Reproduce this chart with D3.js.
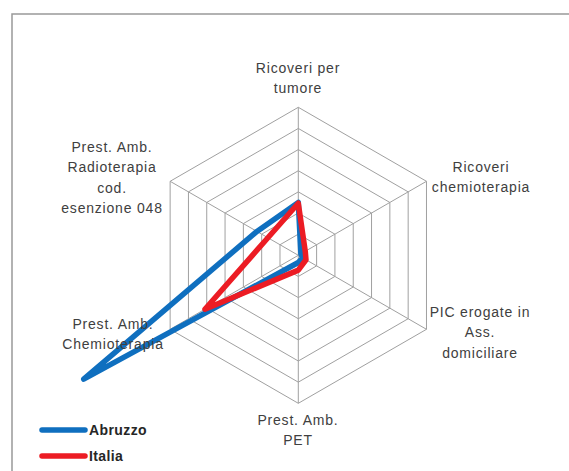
<!DOCTYPE html>
<html>
<head>
<meta charset="utf-8">
<script src="https://cdn.jsdelivr.net/npm/d3@7"></script>
<style>
  body { margin: 0; background: #fff; }
  text { font-family: "Liberation Sans", Arial, sans-serif; fill: #404040; }
</style>
</head>
<body>
<svg id="radar"></svg>
<script>
// Data
let categories = [
    ["Ricoveri per", "tumore"],
    ["Ricoveri", "chemioterapia"],
    ["PIC erogate in", "Ass.", "domiciliare"],
    ["Prest. Amb.", "PET"],
    ["Prest. Amb.", "Chemioterapia"],
    ["Prest. Amb.", "Radioterapia", "cod.", "esenzione 048"]
];
let abruzzo = [1.25, 0.07, 0.12, 0.17, 5.86, 1.13];
let italia = [1.23, 0.19, 0.21, 0.35, 2.55, 0.83];
let ticks = [0, 0.5, 1, 1.5, 2, 2.5, 3, 3.5];

let seriesNames = ["Abruzzo", "Italia"];
let seriesColors = ["#0F6FBF", "#EC1C24"];

// SVG size
let width = 569;
let height = 471;
let cx = 298.3, cy = 255.3;
let radius = 148;

let svg = d3.select("#radar")
    .attr("width", width)
    .attr("height", height);

// outer frame
svg.append("path")
    .attr("d", `M12,${height} L12,14 L${width},14`)
    .attr("fill", "none")
    .attr("stroke", "#999")
    .attr("stroke-width", 1.5);

let r = d3.scaleLinear()
    .domain([0, d3.max(ticks)])
    .range([0, radius]);

let angle = d3.scalePoint()
    .domain(d3.range(categories.length))
    .range([0, 2 * Math.PI * (categories.length - 1) / categories.length]);

let g = svg.append("g")
    .attr("transform", `translate(${cx}, ${cy})`);

let pt = (i, v) => [Math.sin(angle(i)) * r(v), -Math.cos(angle(i)) * r(v)];

// Grid rings
g.selectAll("polygon.ring")
    .data(ticks.slice(1))
    .enter()
    .append("polygon")
    .attr("class", "ring")
    .attr("points", t => categories.map((c, i) => pt(i, t).join(",")).join(" "))
    .attr("fill", "none")
    .attr("stroke", "#A0A0A0")
    .attr("stroke-width", 1);

// Spokes
g.selectAll("line.spoke")
    .data(categories)
    .enter()
    .append("line")
    .attr("class", "spoke")
    .attr("x1", 0).attr("y1", 0)
    .attr("x2", (c, i) => pt(i, d3.max(ticks))[0])
    .attr("y2", (c, i) => pt(i, d3.max(ticks))[1])
    .attr("stroke", "#A0A0A0")
    .attr("stroke-width", 1);

// Series
let line = d3.lineRadial()
    .angle((d, i) => angle(i))
    .radius(d => r(d))
    .curve(d3.curveLinearClosed);

[abruzzo, italia].forEach((s, k) => {
    g.append("path")
        .attr("d", line(s))
        .attr("fill", "none")
        .attr("stroke", seriesColors[k])
        .attr("stroke-width", 5.5)
        .attr("stroke-linejoin", "round");
});

// Category labels
let labelPos = [
    [298, 68],
    [481, 167],
    [480, 312],
    [298, 420],
    [113, 324],
    [112, 147]
];
categories.forEach((lines, i) => {
    let t = svg.append("text")
        .attr("text-anchor", "middle")
        .attr("font-size", 14)
        .attr("letter-spacing", 0.8);
    lines.forEach((ln, j) => {
        t.append("tspan")
            .attr("x", labelPos[i][0])
            .attr("y", labelPos[i][1] + j * 20.5)
            .attr("dy", "0.35em")
            .text(ln);
    });
});

// Legend
let legend = svg.selectAll("g.legend")
    .data(seriesNames)
    .enter()
    .append("g")
    .attr("class", "legend")
    .attr("transform", (d, i) => `translate(0, ${430 + i * 26})`);

legend.append("line")
    .attr("x1", 42).attr("x2", 85)
    .attr("y1", 0).attr("y2", 0)
    .attr("stroke", (d, i) => seriesColors[i])
    .attr("stroke-width", 5.5)
    .attr("stroke-linecap", "round");

legend.append("text")
    .attr("x", 89)
    .attr("y", 0)
    .attr("dy", "0.35em")
    .attr("font-size", 14)
    .attr("font-weight", "bold")
    .attr("letter-spacing", 0.4)
    .style("fill", "#262626")
    .text(d => d);
</script>
</body>
</html>
